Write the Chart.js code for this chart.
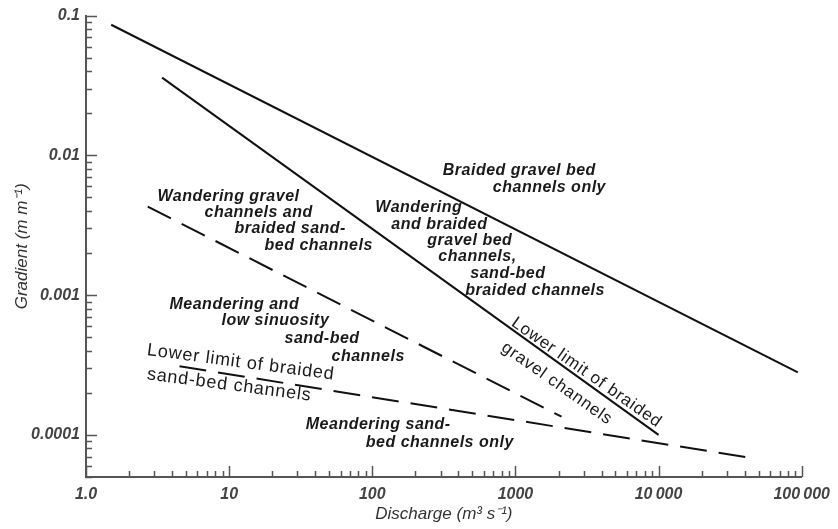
<!DOCTYPE html>
<html lang="en">
<head>
<meta charset="utf-8">
<title>Gradient vs discharge</title>
<script src="https://cdn.jsdelivr.net/npm/chart.js@4.4.1/dist/chart.umd.min.js"></script>
<style>
    body { margin: 0; background: #fff; }
    canvas { display: block; }
</style>
</head>
<body>
<canvas id="myChart" width="838" height="529"></canvas>
<script>
// boundary lines (discharge m3/s, gradient m/m)
var braidedGravelX = [1.5, 94000];
var braidedGravelY = [0.086, 0.00028];
var lowerGravelX = [3.4, 10000];
var lowerGravelY = [0.036, 0.0001];
var wanderingX = [2.7, 2100];
var wanderingY = [0.0043, 0.000135];
var lowerSandX = [4.5, 46000];
var lowerSandY = [0.00031, 0.000068];

var xTicks = [1, 10, 100, 1000, 10000, 100000];
var xTickLabels = ['1.0', '10', '100', '1000', '10\u2009000', '100\u2009000'];
var yTicks = [0.0001, 0.001, 0.01, 0.1];
var yTickLabels = ['0.0001', '0.001', '0.01', '0.1'];

// region labels: anchor in data units, line offsets in px
var regionLabels = [
    { x: 311, y: 0.0072, lines: [[0, 0, 'Braided gravel bed'], [50, 17, 'channels only']] },
    { x: 105, y: 0.00392, lines: [[0, 0, 'Wandering'], [16, 17, 'and braided'], [52, 33, 'gravel bed'],
        [63, 49, 'channels,'], [95, 66, 'sand-bed'], [90, 83, 'braided channels']] },
    { x: 3.16, y: 0.00469, lines: [[0, 0, 'Wandering gravel'], [47, 16, 'channels and'],
        [77, 32, 'braided sand-'], [107, 49, 'bed channels']] },
    { x: 3.83, y: 0.000794, lines: [[0, 0, 'Meandering and'], [52, 16, 'low sinuosity'],
        [115, 34, 'sand-bed'], [162, 52, 'channels']] },
    { x: 34.3, y: 0.00011, lines: [[0, 0, 'Meandering sand-'], [60, 18, 'bed channels only']] }
];
// line labels (upright font, rotated)
var lineLabels = [
    { x: 2.65, y: 0.000373, angle: 7.5, size: 18, lines: [[0, 0, 'Lower limit of braided'], [3, 24, 'sand-bed channels']] },
    { x: 923, y: 0.000611, angle: 35, size: 17, lines: [[0, 0, 'Lower limit of braided'], [6, 26, 'gravel channels']] }
];

function pts(xs, ys) {
    return xs.map(function (v, i) { return { x: v, y: ys[i] }; });
}

function logTicks(majors, min, max) {
    var out = [];
    majors.concat([majors[0] / 10]).forEach(function (m) {
        for (var k = 1; k < 10; k++) {
            var v = m * k;
            if (v >= min * 0.999 && v <= max * 1.001) out.push(v);
        }
    });
    return out.sort(function (a, b) { return a - b; });
}

function isMajor(v) {
    var l = Math.log10(v);
    return Math.abs(l - Math.round(l)) < 1e-6;
}

function labelFor(v, vals, labels) {
    for (var i = 0; i < vals.length; i++) {
        if (Math.abs(Math.log10(v) - Math.log10(vals[i])) < 1e-6) return labels[i];
    }
    return '';
}

var X_MIN = 1, X_MAX = 100000, Y_MIN = 0.00005, Y_MAX = 0.1;
var xAll = logTicks(xTicks, X_MIN, X_MAX);
var yAll = logTicks(yTicks, Y_MIN, Y_MAX);

// inward tick marks on both axes
var tickMarks = {
    id: 'tickMarks',
    afterDraw: function (chart) {
        var ctx = chart.ctx, xs = chart.scales.x, ys = chart.scales.y, a = chart.chartArea;
        ctx.save();
        ctx.strokeStyle = '#555';
        ctx.lineWidth = 1.5;
        ctx.beginPath();
        xAll.forEach(function (v) {
            var px = Math.round(xs.getPixelForValue(v)) + 0.5;
            var len = isMajor(v) ? 11 : 6;
            ctx.moveTo(px, a.bottom);
            ctx.lineTo(px, a.bottom - len);
        });
        yAll.forEach(function (v) {
            var py = Math.round(ys.getPixelForValue(v)) + 0.5;
            var len = isMajor(v) ? 11 : 6;
            ctx.moveTo(a.left, py);
            ctx.lineTo(a.left + len, py);
        });
        ctx.stroke();
        ctx.restore();
    }
};

var annotations = {
    id: 'annotations',
    afterDatasetsDraw: function (chart) {
        var ctx = chart.ctx, xs = chart.scales.x, ys = chart.scales.y;
        ctx.save();
        ctx.fillStyle = '#1a1a1a';
        ctx.textBaseline = 'alphabetic';
        ctx.textAlign = 'left';

        ctx.font = 'italic bold 16px "Liberation Sans", Arial, sans-serif';
        if ('letterSpacing' in ctx) ctx.letterSpacing = '0.5px';
        regionLabels.forEach(function (r) {
            var px = xs.getPixelForValue(r.x), py = ys.getPixelForValue(r.y);
            r.lines.forEach(function (l) {
                ctx.fillText(l[2], px + l[0], py + l[1]);
            });
        });

        if ('letterSpacing' in ctx) ctx.letterSpacing = '0.8px';
        lineLabels.forEach(function (r) {
            var px = xs.getPixelForValue(r.x), py = ys.getPixelForValue(r.y);
            ctx.save();
            ctx.font = r.size + 'px "Liberation Sans", Arial, sans-serif';
            ctx.translate(px, py);
            ctx.rotate(r.angle * Math.PI / 180);
            r.lines.forEach(function (l) {
                ctx.fillText(l[2], l[0], l[1]);
            });
            ctx.restore();
        });
        ctx.restore();
    }
};

function lineSet(xs, ys, dash) {
    return {
        data: pts(xs, ys),
        showLine: true,
        borderColor: '#111',
        borderWidth: 2,
        borderDash: dash || [],
        pointRadius: 0,
        fill: false,
        tension: 0
    };
}

var tickFont = { family: '"Liberation Sans", Arial, sans-serif', size: 16, style: 'italic', weight: 'bold' };
var titleFont = { family: '"Liberation Sans", Arial, sans-serif', size: 17, style: 'italic' };

var ctx = document.getElementById('myChart').getContext('2d');
var myChart = new Chart(ctx, {
    type: 'scatter',
    data: {
        datasets: [
            lineSet(braidedGravelX, braidedGravelY),
            lineSet(lowerGravelX, lowerGravelY),
            lineSet(wanderingX, wanderingY, [26, 12]),
            lineSet(lowerSandX, lowerSandY, [27, 12])
        ]
    },
    options: {
        responsive: false,
        animation: false,
        devicePixelRatio: 1,
        layout: { padding: { left: 0, right: 32, top: 15, bottom: 0 } },
        plugins: {
            legend: { display: false },
            tooltip: { enabled: false }
        },
        scales: {
            x: {
                type: 'logarithmic',
                min: X_MIN,
                max: X_MAX,
                afterBuildTicks: function (scale) {
                    scale.ticks = xAll.map(function (v) { return { value: v, major: isMajor(v) }; });
                },
                afterFit: function (scale) { scale.height = 52; },
                grid: { display: true, drawOnChartArea: false, drawTicks: false },
                border: { display: true, color: '#555', width: 2 },
                ticks: {
                    autoSkip: false,
                    maxRotation: 0,
                    padding: 8,
                    color: '#444',
                    font: tickFont,
                    callback: function (v) { return labelFor(v, xTicks, xTickLabels); }
                },
                title: {
                    display: true,
                    text: 'Discharge (m\u00b3 s\u207b\u00b9)',
                    color: '#333',
                    font: titleFont,
                    padding: { top: 0, bottom: 5 }
                }
            },
            y: {
                type: 'logarithmic',
                min: Y_MIN,
                max: Y_MAX,
                afterBuildTicks: function (scale) {
                    scale.ticks = yAll.map(function (v) { return { value: v, major: isMajor(v) }; });
                },
                afterFit: function (scale) { scale.width = 86; },
                grid: { display: true, drawOnChartArea: false, drawTicks: false },
                border: { display: true, color: '#555', width: 2 },
                ticks: {
                    autoSkip: false,
                    padding: 6,
                    color: '#444',
                    font: tickFont,
                    callback: function (v) { return labelFor(v, yTicks, yTickLabels); }
                },
                title: {
                    display: true,
                    text: 'Gradient (m m\u207b\u00b9)',
                    color: '#333',
                    font: titleFont,
                    padding: { top: 12, bottom: 0 }
                }
            }
        }
    },
    plugins: [annotations, tickMarks]
});
</script>
</body>
</html>
